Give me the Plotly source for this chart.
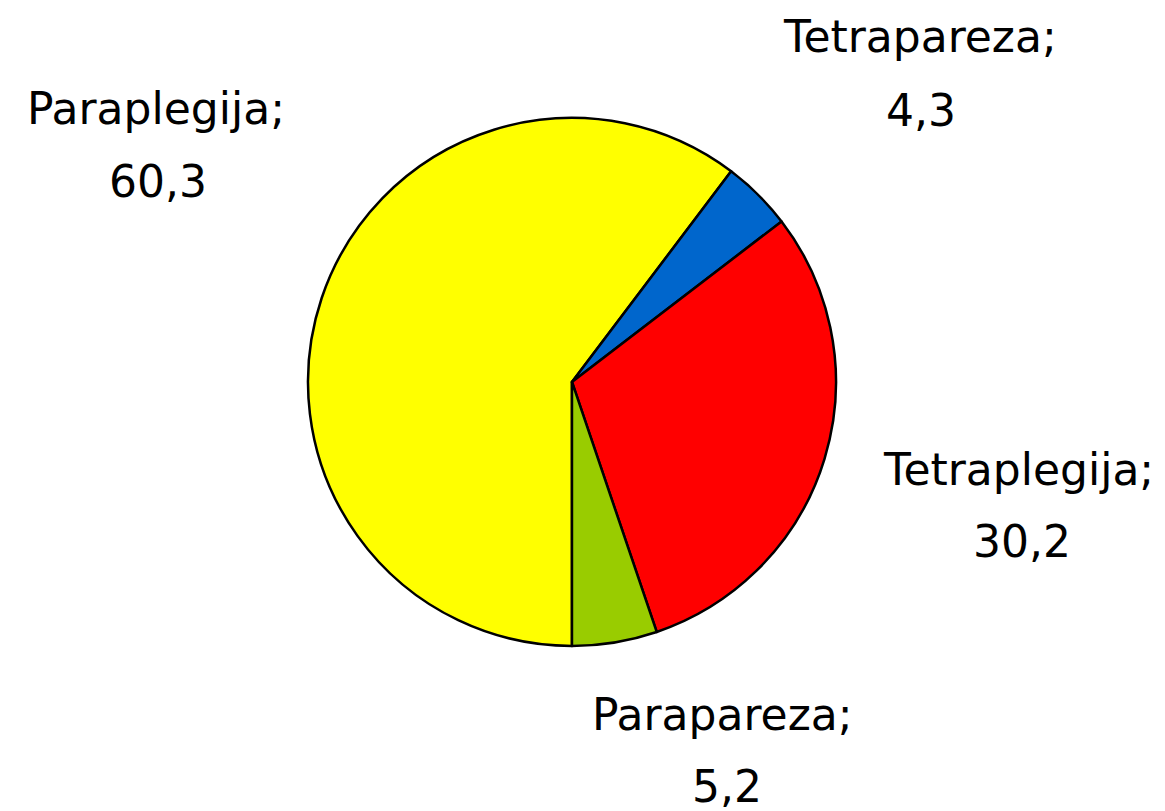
import plotly.graph_objects as go

categories = ["Paraplegija", "Tetrapareza", "Tetraplegija", "Parapareza"]
values = [60.3, 4.3, 30.2, 5.2]
value_labels = ["60,3", "4,3", "30,2", "5,2"]
colors = ["#FFFF00", "#0066CC", "#FF0000", "#99CC00"]

W, H = 1165, 811
fig = go.Figure(go.Pie(
    labels=categories,
    values=values,
    sort=False,
    direction="clockwise",
    rotation=180,
    marker=dict(colors=colors, line=dict(color="black", width=2.5)),
    textinfo="none",
    hoverinfo="label+value",
    domain=dict(x=[0.2575, 0.7107], y=[0.2134, 0.8644]),
    showlegend=False,
))

# label positions (pixel centres of each text line)
label_pos = {
    "Paraplegija": ((148, 108), (150, 180)),
    "Tetrapareza": ((912, 35), (913, 110)),
    "Tetraplegija": ((1010, 468), (1014, 540)),
    "Parapareza": ((714, 713), (719, 785)),
}
font = dict(family="DejaVu Sans", size=44, color="black")
anns = []
for cat, val in zip(categories, value_labels):
    (x1, y1), (x2, y2) = label_pos[cat]
    for txt, (x, y) in ((cat + ";", (x1, y1)), (val, (x2, y2))):
        anns.append(dict(text=txt, x=x / W, y=1 - (y - 7) / H, xref="paper", yref="paper",
                         xanchor="center", yanchor="middle", showarrow=False, font=font))

fig.update_layout(
    width=W, height=H,
    margin=dict(l=0, r=0, t=0, b=0),
    paper_bgcolor="white", plot_bgcolor="white",
    annotations=anns,
)
fig.write_html("out.html")
